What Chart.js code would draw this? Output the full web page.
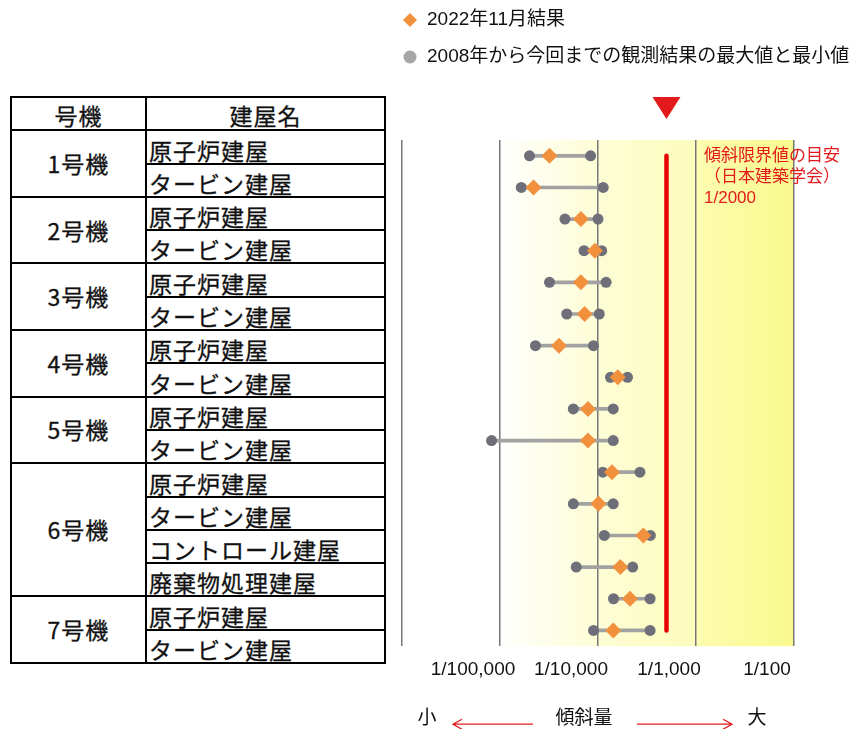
<!DOCTYPE html>
<html lang="ja">
<head>
<meta charset="utf-8">
<title>建屋傾斜量</title>
<script src="https://cdn.jsdelivr.net/npm/chart.js@4.4.1/dist/chart.umd.min.js"></script>
<style>
  html, body { margin: 0; padding: 0; background: #fff; }
  body { width: 850px; height: 729px; position: relative; overflow: hidden;
         font-family: "Noto Sans CJK JP", sans-serif; color: #111; }
  #tbl { position: absolute; left: 10px; top: 96px; width: 374px;
         border-collapse: collapse; table-layout: fixed; }
  #tbl tr { height: 33.3px; }
  #tbl th, #tbl td { border: 2px solid #000; padding: 0; font-size: 23px; line-height: 23px;
                     font-weight: normal; letter-spacing: 1px; -webkit-text-stroke: 0.3px #111; }
  #tbl th { text-align: center; vertical-align: middle; }
  #tbl th span { position: relative; top: 2px; }
  #tbl td.unit { text-align: center; vertical-align: middle; }
  #tbl td.bld { text-align: left; vertical-align: bottom; padding-left: 2px; white-space: nowrap; }
  #tbl td.bld span { position: relative; top: -1px; }
  #wrap { position: absolute; left: 390px; top: 0; width: 460px; height: 729px; }
</style>
</head>
<body>
<table id="tbl">
  <colgroup><col style="width:135px"><col style="width:239px"></colgroup>
  <thead><tr><th><span>号機</span></th><th><span>建屋名</span></th></tr></thead>
  <tbody id="tbody"></tbody>
</table>
<div id="wrap"><canvas id="tilt-chart"></canvas></div>
<script>
// rows of the table / chart
const rowUnits = ['1号機', '1号機', '2号機', '2号機', '3号機', '3号機', '4号機', '4号機',
    '5号機', '5号機', '6号機', '6号機', '6号機', '6号機', '7号機', '7号機'];
const rowBuildings = ['原子炉建屋', 'タービン建屋', '原子炉建屋', 'タービン建屋', '原子炉建屋', 'タービン建屋',
    '原子炉建屋', 'タービン建屋', '原子炉建屋', 'タービン建屋', '原子炉建屋', 'タービン建屋',
    'コントロール建屋', '廃棄物処理建屋', '原子炉建屋', 'タービン建屋'];

// tilt values
const result2022 = [3.2e-5, 2.2e-5, 6.7e-5, 9.3e-5, 6.7e-5, 7.3e-5, 4.0e-5, 1.59e-4,
    7.9e-5, 7.9e-5, 1.39e-4, 1.01e-4, 2.9e-4, 1.69e-4, 2.12e-4, 1.43e-4];
const minValues = [2.0e-5, 1.65e-5, 4.6e-5, 7.2e-5, 3.2e-5, 4.8e-5, 2.3e-5, 1.34e-4,
    5.6e-5, 8.2e-6, 1.12e-4, 5.6e-5, 1.16e-4, 6.0e-5, 1.44e-4, 9.0e-5];
const maxValues = [8.4e-5, 1.13e-4, 1.0e-4, 1.09e-4, 1.21e-4, 1.03e-4, 9.0e-5, 2.0e-4,
    1.43e-4, 1.43e-4, 2.68e-4, 1.43e-4, 3.42e-4, 2.26e-4, 3.4e-4, 3.4e-4];

const tickValues = [1e-6, 1e-5, 1e-4, 1e-3, 1e-2];
const tickLabels = ['', '1/100,000', '1/10,000', '1/1,000', '1/100'];
const limitValue = 1 / 2000;
const limitText = ['傾斜限界値の目安', '（日本建築学会）', '1/2000'];
const legendText = ['2022年11月結果', '2008年から今回までの観測結果の最大値と最小値'];

const rowKeys = rowUnits.map((u, i) => u + ' ' + rowBuildings[i]);
const FONT = '"Liberation Sans", "Noto Sans CJK JP", sans-serif';
const RED = '#e31a1c';

// table on the left
const tbody = document.getElementById('tbody');
rowUnits.forEach((u, i) => {
    const tr = document.createElement('tr');
    if (i === 0 || rowUnits[i - 1] !== u) {
        const td = document.createElement('td');
        td.className = 'unit';
        td.rowSpan = rowUnits.filter(x => x === u).length;
        td.textContent = u;
        tr.appendChild(td);
    }
    const td = document.createElement('td');
    td.className = 'bld';
    td.innerHTML = '<span>' + rowBuildings[i] + '</span>';
    tr.appendChild(td);
    tbody.appendChild(tr);
});

// background, limit marker, legend and the bottom caption
const decor = {
    id: 'decor',
    beforeDraw(chart) {
        const {ctx, chartArea: a} = chart;
        const g = ctx.createLinearGradient(a.left, 0, a.right, 0);
        g.addColorStop(0, '#ffffff');
        g.addColorStop(0.24, '#ffffff');
        g.addColorStop(0.5, '#fdfdd6');
        g.addColorStop(0.75, '#fcfcbc');
        g.addColorStop(0.76, '#fcfcae');
        g.addColorStop(1, '#f9f98e');
        ctx.save();
        ctx.fillStyle = g;
        ctx.fillRect(a.left, a.top, a.width, a.height);
        ctx.restore();
    },
    afterDraw(chart) {
        const {ctx, chartArea: a} = chart;
        const xs = chart.scales.x;
        const lx = xs.getPixelForValue(limitValue);
        ctx.save();

        // triangle above the limit line
        ctx.fillStyle = RED;
        ctx.beginPath();
        ctx.moveTo(lx - 14, a.top - 43);
        ctx.lineTo(lx + 14, a.top - 43);
        ctx.lineTo(lx, a.top - 21);
        ctx.closePath();
        ctx.fill();

        // limit note
        ctx.font = '17px ' + FONT;
        ctx.textBaseline = 'middle';
        ctx.textAlign = 'left';
        const tx = xs.getPixelForValue(1e-3) + 8;
        limitText.forEach((t, i) => ctx.fillText(t, tx, a.top + 16 + i * 21));

        // legend
        ctx.fillStyle = '#f2913d';
        ctx.beginPath();
        ctx.moveTo(20, 13); ctx.lineTo(27, 20); ctx.lineTo(20, 27); ctx.lineTo(13, 20);
        ctx.closePath();
        ctx.fill();
        ctx.fillStyle = '#a6a6a6';
        ctx.beginPath();
        ctx.arc(20, 57, 6.5, 0, Math.PI * 2);
        ctx.fill();
        ctx.font = '19px ' + FONT;
        ctx.fillStyle = '#111';
        ctx.fillText(legendText[0], 37, 20);
        ctx.fillText(legendText[1], 37, 57);

        // bottom caption: 小 <-- 傾斜量 --> 大
        const y = a.bottom + 73;
        ctx.font = '19px ' + FONT;
        ctx.textAlign = 'center';
        ctx.fillText('小', a.left + 25, y);
        ctx.fillText('傾斜量', a.left + 182, y);
        ctx.fillText('大', a.left + 355, y);
        ctx.strokeStyle = RED;
        ctx.lineWidth = 1.3;
        ctx.beginPath();
        ctx.moveTo(a.left + 131, y + 5); ctx.lineTo(a.left + 51, y + 5);
        ctx.moveTo(a.left + 60, y); ctx.lineTo(a.left + 51, y + 5); ctx.lineTo(a.left + 60, y + 10);
        ctx.moveTo(a.left + 235, y + 5); ctx.lineTo(a.left + 330, y + 5);
        ctx.moveTo(a.left + 321, y); ctx.lineTo(a.left + 330, y + 5); ctx.lineTo(a.left + 321, y + 10);
        ctx.stroke();
        ctx.restore();
    }
};

const tilt_chart_ctx = document.getElementById('tilt-chart').getContext('2d');
const tilt_chart = new Chart(tilt_chart_ctx, {
    type: 'bar',
    data: {
        labels: rowKeys,
        datasets: [{
            type: 'line',
            label: legendText[0],
            data: result2022,
            showLine: false,
            pointStyle: 'rectRot',
            pointRadius: 8,
            pointBorderWidth: 0,
            pointBackgroundColor: '#f2913d',
            order: 1
        }, {
            type: 'line',
            label: '最小値',
            data: minValues,
            showLine: false,
            pointRadius: 5.5,
            pointBorderWidth: 0,
            pointBackgroundColor: '#6f6f79',
            order: 2
        }, {
            type: 'line',
            label: '最大値',
            data: maxValues,
            showLine: false,
            pointRadius: 5.5,
            pointBorderWidth: 0,
            pointBackgroundColor: '#6f6f79',
            order: 2
        }, {
            label: '範囲',
            data: minValues.map((v, i) => [v, maxValues[i]]),
            backgroundColor: '#a2a2a2',
            barThickness: 3,
            order: 3
        }, {
            type: 'line',
            label: '傾斜限界値',
            data: [{x: limitValue, y: rowKeys[0]}, {x: limitValue, y: rowKeys[rowKeys.length - 1]}],
            borderColor: '#e60000',
            borderWidth: 4.5,
            borderCapStyle: 'round',
            pointRadius: 0,
            order: 4
        }]
    },
    options: {
        indexAxis: 'y',
        responsive: true,
        maintainAspectRatio: false,
        animation: false,
        events: [],
        layout: {padding: {left: 12, right: 56, top: 140, bottom: 36}},
        plugins: {
            legend: {display: false},
            tooltip: {enabled: false}
        },
        scales: {
            x: {
                type: 'logarithmic',
                min: 1e-6,
                max: 1e-2,
                afterBuildTicks: axis => { axis.ticks = tickValues.map(v => ({value: v})); },
                ticks: {
                    callback: (v, i) => tickLabels[i],
                    autoSkip: false,
                    maxRotation: 0,
                    labelOffset: -27,
                    padding: 12,
                    color: '#111',
                    font: {size: 19, family: FONT}
                },
                grid: {color: '#777', lineWidth: 1.5, drawTicks: false},
                border: {display: false}
            },
            y: {
                display: false,
                offset: true
            }
        }
    },
    plugins: [decor]
});
</script>
</body>
</html>
